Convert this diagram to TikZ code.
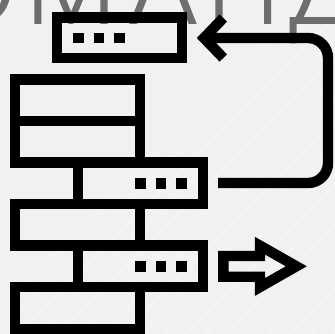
\documentclass[tikz,border=0pt]{standalone}
\usepackage{fontspec}
\setmainfont{Open Sans}
\newfontfamily\wmfont[FakeBold=1.6]{Open Sans Light}
\definecolor{bgc}{HTML}{F1F1F1}
\definecolor{stripec}{HTML}{F4F4F4}
\definecolor{markc}{HTML}{6E6E6E}
\tikzset{
  icon/.style={draw=black,line width=10.4pt,miter limit=10},
  dotm/.style={fill=black},
  stripe/.style={draw=stripec,line width=3pt},
  wm/.style={text=markc,font=\wmfont\fontsize{108pt}{108pt}\selectfont,anchor=base,inner sep=0pt}
}
\begin{document}
\begin{tikzpicture}[x=1pt,y=-1pt]
\useasboundingbox (0,0) rectangle (335,334);
\clip (0,0) rectangle (335,334);
\fill[bgc] (0,0) rectangle (335,334);
\foreach \k in {-1,...,32}{
  \draw[stripe] ({\k*21-10},340) -- ({\k*21+340-10},0);
}
% watermark
\node[wm] at (-24,23) {O};
\node[wm] at (71,23) {M};
\node[wm] at (163,23) {A};
\node[wm] at (219,23) {T};
\node[wm] at (265,23) {1};
\node[wm] at (325,23) {Д};
% icon
\draw[icon] (57,17.7) rectangle (182,58.3);
\draw[icon] (15,79.5) rectangle (140,162.5);
\draw[icon] (15,121) -- (140,121);
\draw[icon] (78,162.5) rectangle (203,204);
\draw[icon] (15,204) rectangle (140,245.5);
\draw[icon] (78,245.5) rectangle (203,287);
\draw[icon] (15,287) rectangle (140,329);
% dots
\foreach \x in {73,93.6,114.3}{\fill[dotm] (\x,32.6) rectangle ++(10.6,10.6);}
\foreach \x in {135,155.7,176.4}{
  \fill[dotm] (\x,178) rectangle ++(10.6,10.6);
  \fill[dotm] (\x,261) rectangle ++(10.6,10.6);
}
% return connector
\coordinate (retstart) at (218,183);
\coordinate (rettip) at (204,38);
\draw[icon] (retstart) -- (308,183) arc[start angle=90,end angle=0,radius=20,y=-1pt] -- (328,58) arc[start angle=0,end angle=-90,radius=20,y=-1pt] -- (rettip);
\draw[icon] (223.3,18) -- (rettip) -- (223.3,58);
% outlined arrow
\draw[icon] (223.4,256) -- (260,256) -- (260,245.7) -- (296.3,266.3) -- (260,287) -- (260,276.7) -- (223.4,276.7) -- cycle;
\end{tikzpicture}
\end{document}
